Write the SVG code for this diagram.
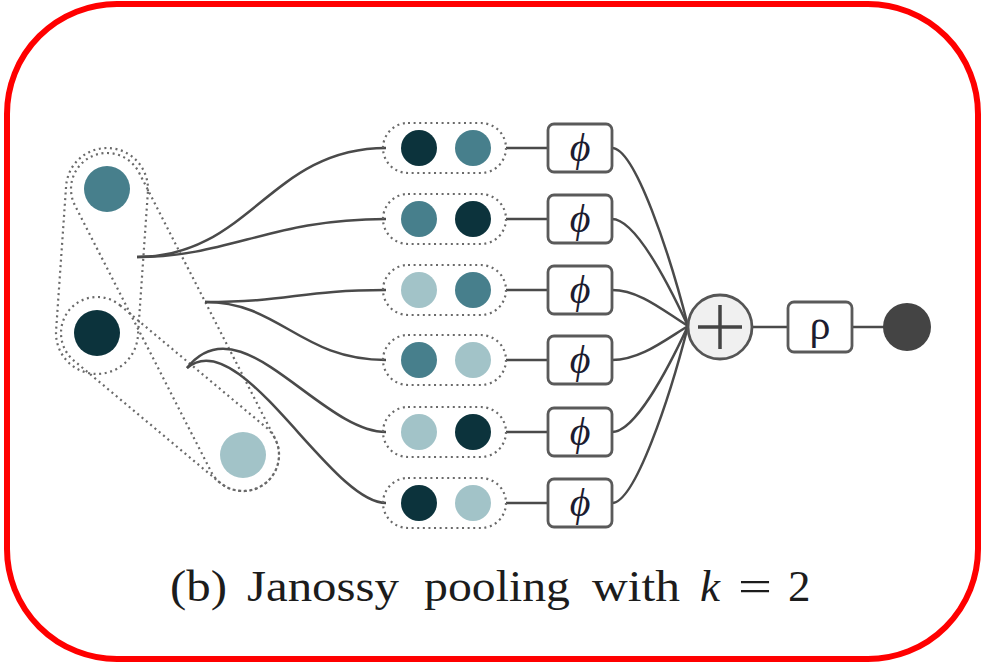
<svg xmlns="http://www.w3.org/2000/svg" width="982" height="664" viewBox="0 0 982 664">
  <style>
    .teal { fill: #477f8c; }
    .dark { fill: #0c333c; }
    .light { fill: #a2c3c8; }
    .hull { fill: none; stroke: #6a6a6a; stroke-width: 2.2; stroke-dasharray: 2 3.6; }
    .wire { fill: none; stroke: #4a4a4a; stroke-width: 2.5; }
    .box { fill: #fff; stroke: #5a5a5a; stroke-width: 2.8; }
    .fn { font-family: "Liberation Serif", "DejaVu Serif", serif; font-size: 40px; font-style: italic; fill: #1c1c30; text-anchor: middle; }
    .cap { font-family: "Liberation Serif", "DejaVu Serif", serif; font-size: 45px; fill: #1c1c1c; }
  </style>

  <!-- frame -->
  <rect x="7" y="4" width="971" height="655" rx="110" ry="110" fill="#fff" stroke="#ff0000" stroke-width="6"/>

  <!-- input set with its dotted pair hulls -->
  <g id="input-set">
    <rect class="hull" x="-41" y="-41" width="226.3" height="82" rx="41" transform="translate(107 189) rotate(93.97)"/>
    <rect class="hull" x="-36" y="-36" width="370.8" height="72" rx="36" transform="translate(107 189) rotate(62.92)"/>
    <rect class="hull" x="-36" y="-36" width="262.3" height="72" rx="36" transform="translate(97 333) rotate(39.88)"/>
    <circle id="x1" class="teal" cx="107" cy="189" r="23"/>
    <circle id="x2" class="dark" cx="97" cy="333" r="23"/>
    <circle id="x3" class="light" cx="243" cy="455" r="23"/>
  </g>

  <!-- connectors -->
  <g id="connectors">
    <!-- pairs to ordered tuples -->
    <path class="wire" d="M137 257 C250 257 270 148 386 148"/>
    <path class="wire" d="M137 257 C230 257 270 219 386 219"/>
    <path class="wire" d="M205 302 C290 302 300 290 386 290"/>
    <path class="wire" d="M205 302 C280 302 300 360 386 360"/>
    <path class="wire" d="M187 368 C240 300 320 432 386 432"/>
    <path class="wire" d="M187 368 C240 322 330 503 386 503"/>
    <!-- tuples to phi -->
    <path class="wire" d="M506 148 H548"/>
    <path class="wire" d="M506 219 H548"/>
    <path class="wire" d="M506 290 H548"/>
    <path class="wire" d="M506 360 H548"/>
    <path class="wire" d="M506 432 H548"/>
    <path class="wire" d="M506 503 H548"/>
    <!-- phi to sum -->
    <path class="wire" d="M612 148 C635 148 670 255 688 326"/>
    <path class="wire" d="M612 219 C635 219 668 283 688 326"/>
    <path class="wire" d="M612 290 C640 290 665 312 688 326"/>
    <path class="wire" d="M612 360 C640 360 665 340 688 326"/>
    <path class="wire" d="M612 432 C635 432 668 369 688 326"/>
    <path class="wire" d="M612 503 C635 503 670 397 688 326"/>
    <!-- sum to rho to output -->
    <path class="wire" d="M752 327 H788"/>
    <path class="wire" d="M852 327 H884"/>
  </g>

  <!-- ordered tuples -->
  <g id="tuple-1">
    <rect class="hull" x="383" y="123" width="123" height="50" rx="25"/>
    <circle class="dark" cx="419" cy="148" r="18"/>
    <circle class="teal" cx="473" cy="148" r="18"/>
  </g>
  <g id="tuple-2">
    <rect class="hull" x="383" y="194" width="123" height="50" rx="25"/>
    <circle class="teal" cx="419" cy="219" r="18"/>
    <circle class="dark" cx="473" cy="219" r="18"/>
  </g>
  <g id="tuple-3">
    <rect class="hull" x="383" y="265" width="123" height="50" rx="25"/>
    <circle class="light" cx="419" cy="290" r="18"/>
    <circle class="teal" cx="473" cy="290" r="18"/>
  </g>
  <g id="tuple-4">
    <rect class="hull" x="383" y="335" width="123" height="50" rx="25"/>
    <circle class="teal" cx="419" cy="360" r="18"/>
    <circle class="light" cx="473" cy="360" r="18"/>
  </g>
  <g id="tuple-5">
    <rect class="hull" x="383" y="407" width="123" height="50" rx="25"/>
    <circle class="light" cx="419" cy="432" r="18"/>
    <circle class="dark" cx="473" cy="432" r="18"/>
  </g>
  <g id="tuple-6">
    <rect class="hull" x="383" y="478" width="123" height="50" rx="25"/>
    <circle class="dark" cx="419" cy="503" r="18"/>
    <circle class="light" cx="473" cy="503" r="18"/>
  </g>

  <!-- phi blocks -->
  <g id="phi-1"><rect class="box" x="548" y="124" width="64" height="48" rx="6"/><text class="fn" x="580" y="161">ϕ</text></g>
  <g id="phi-2"><rect class="box" x="548" y="195" width="64" height="48" rx="6"/><text class="fn" x="580" y="232">ϕ</text></g>
  <g id="phi-3"><rect class="box" x="548" y="266" width="64" height="48" rx="6"/><text class="fn" x="580" y="303">ϕ</text></g>
  <g id="phi-4"><rect class="box" x="548" y="336" width="64" height="48" rx="6"/><text class="fn" x="580" y="373">ϕ</text></g>
  <g id="phi-5"><rect class="box" x="548" y="408" width="64" height="48" rx="6"/><text class="fn" x="580" y="445">ϕ</text></g>
  <g id="phi-6"><rect class="box" x="548" y="479" width="64" height="48" rx="6"/><text class="fn" x="580" y="516">ϕ</text></g>

  <!-- sum -->
  <g id="sum">
    <circle cx="720" cy="327" r="32" fill="#f0f0f0" stroke="#555" stroke-width="2.8"/>
    <path d="M698 327 H742 M720 305 V349" stroke="#444" stroke-width="3.5" fill="none"/>
  </g>

  <!-- rho -->
  <g id="rho">
    <rect class="box" x="788" y="302" width="64" height="50" rx="6"/>
    <text x="820" y="339" font-family="'Liberation Serif', 'DejaVu Serif', serif" font-size="42" fill="#1c1c30" text-anchor="middle">ρ</text>
  </g>

  <!-- output -->
  <g id="output">
    <circle cx="907" cy="327" r="24" fill="#444"/>
  </g>

  <!-- caption -->
  <text class="cap" y="601">
    <tspan x="170" textLength="57" lengthAdjust="spacingAndGlyphs">(b)</tspan>
    <tspan x="247" textLength="152" lengthAdjust="spacingAndGlyphs">Janossy</tspan>
    <tspan x="424" textLength="146" lengthAdjust="spacingAndGlyphs">pooling</tspan>
    <tspan x="592" textLength="88" lengthAdjust="spacingAndGlyphs">with</tspan>
    <tspan x="700" font-style="italic">k</tspan>
    <tspan x="738" textLength="34" lengthAdjust="spacingAndGlyphs">=</tspan>
    <tspan x="788">2</tspan>
  </text>
</svg>
